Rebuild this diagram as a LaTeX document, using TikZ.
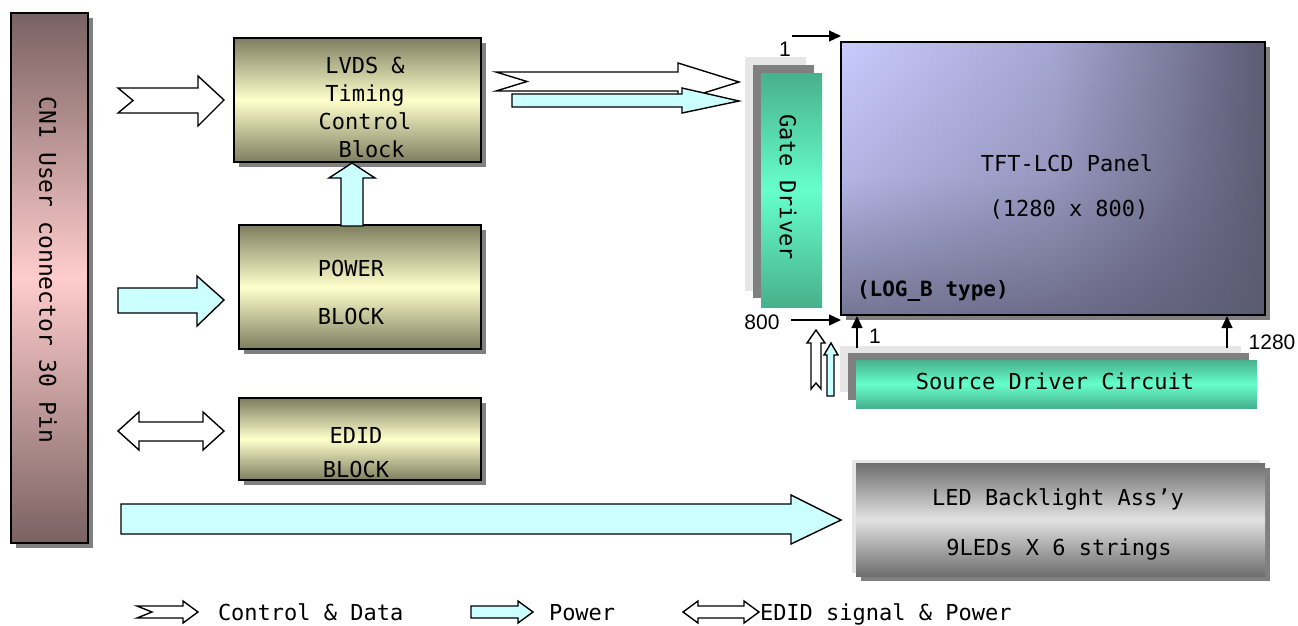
\documentclass[tikz,border=0pt]{standalone}
\usepackage{fontspec}
\setmainfont{DejaVu Sans Mono}
\newfontfamily\lblfont{Liberation Sans}
\usetikzlibrary{arrows.meta,shadows,fadings}

\definecolor{cnDark}{HTML}{7A6262}
\definecolor{cnLight}{HTML}{FFCCCC}
\definecolor{olDark}{HTML}{7E7E60}
\definecolor{olLight}{HTML}{FFFFCC}
\definecolor{pwr}{HTML}{CCFFFF}
\definecolor{tealDark}{HTML}{48B08C}
\definecolor{tealLight}{HTML}{66FFCC}
\definecolor{ledDark}{HTML}{6E6E6E}
\definecolor{ledLight}{HTML}{E2E2E2}
\definecolor{shadowgray}{HTML}{808080}
\definecolor{layerlight}{HTML}{E6E6E6}
\definecolor{pnLeft}{HTML}{C9CBFF}
\definecolor{pnMid}{HTML}{A6A6D2}
\definecolor{pnRight}{HTML}{5C5C74}
\definecolor{pnShade}{HTML}{5A5A72}
\tikzfading[name=panelfade, top color=transparent!100, bottom color=transparent!25, middle color=transparent!80]

\begin{document}
\begin{tikzpicture}[x=1pt,y=-1pt,
  every node/.style={inner sep=0pt,outer sep=0pt},
  txt/.style={font=\fontsize{22}{28}\selectfont,align=center},
  shadowed/.style={general shadow={fill=shadowgray,shadow xshift=5pt,shadow yshift=-5pt}},
  olivebox/.style={draw=black,line width=1.6pt,top color=olDark,bottom color=olDark,middle color=olLight,shadowed},
  tealbox/.style={top color=tealDark,bottom color=tealDark,middle color=tealLight},
  blk/.style={draw=black,line width=1.4pt,line join=miter},
  ctl/.style={blk,fill=white},
  pw/.style={blk,fill=pwr},
  thinarrow/.style={draw=black,line width=1.2pt,-{Triangle[length=12pt,width=11pt]}},
  lbl/.style={font=\lblfont\fontsize{21}{24}\selectfont},
]
\useasboundingbox (0,0) rectangle (1298,625);

% CN1 connector
\node[draw=black,line width=1.6pt,top color=cnDark,bottom color=cnDark,middle color=cnLight,shadowed,
      minimum width=77pt,minimum height=530pt] (cn) at (49.5,278) {};
\node[font=\fontsize{23}{28}\selectfont,rotate=-90] (cnt) at (48,270) {CN1 User connector 30 Pin};

% left blocks
\node[olivebox,minimum width=247pt,minimum height=124pt] (lvds) at (357.5,100) {};
\node[txt] (lvdst) at (365,107) {LVDS \&\\Timing\\Control\\\phantom{x}Block};
\node[olivebox,minimum width=242pt,minimum height=124pt] (pwrb) at (360,287) {};
\node[txt,font=\fontsize{22}{48}\selectfont] (pwrt) at (351,292) {POWER\\BLOCK};
\node[olivebox,minimum width=242pt,minimum height=82pt] (edid) at (360,439) {};
\node[txt,font=\fontsize{22}{34}\selectfont] (edidt) at (356,453) {EDID\\BLOCK};

% block arrows, left side
\path[ctl] (118,88) -- (198,88) -- (198,76) -- (224,100) -- (198,126) -- (198,113) -- (118,113) -- (133,100.5) -- cycle;
\path[pw] (118,288) -- (197,288) -- (197,276) -- (224,300) -- (197,326) -- (197,313) -- (118,313) -- cycle;
\path[ctl] (118,431) -- (139,412) -- (139,422) -- (203,422) -- (203,412) -- (224,431) -- (203,450) -- (203,441) -- (139,441) -- (139,450) -- cycle;
\path[pw] (341,226) -- (341,178) -- (329,178) -- (352,163) -- (375,178) -- (363,178) -- (363,226) -- cycle;
\path[pw] (121,504) -- (791,504) -- (791,495) -- (841,520) -- (791,544) -- (791,534) -- (121,534) -- cycle;

% arrows to gate driver
\path[ctl] (496,72) -- (678,72) -- (678,63) -- (739,82) -- (678,101) -- (678,91) -- (496,91) -- (527,81.5) -- cycle;
\path[pw] (512,94) -- (682,94) -- (682,88) -- (739,101) -- (682,113) -- (682,107) -- (512,107) -- cycle;

% gate driver
\fill[layerlight] (745,57) rectangle (806,291);
\fill[shadowgray] (753,65) rectangle (814,298);
\node[tealbox,minimum width=61pt,minimum height=234pt] (gate) at (791.5,190) {};
\node[font=\fontsize{22}{28}\selectfont,rotate=-90] (gatet) at (788,187) {Gate Driver};

% panel
\node[left color=pnLeft,right color=pnRight,middle color=pnMid,shadowed,minimum width=424pt,minimum height=273pt] (panel) at (1053,178.5) {};
\fill[pnShade,path fading=panelfade] (panel.north west) rectangle (panel.south east);
\draw[black,line width=1.6pt] (panel.north west) rectangle (panel.south east);
\node[txt] (pt1) at (1067,163) {TFT-LCD Panel};
\node[txt] (pt2) at (1069,210) {(1280 x 800)};
\node[font=\bfseries\fontsize{21}{26}\selectfont,anchor=west] (pt3) at (857,291) {(LOG\_B type)};

% source driver
\fill[layerlight] (840,346) rectangle (1241,392);
\fill[shadowgray] (848,353) rectangle (1249,400);
\node[tealbox,minimum width=401pt,minimum height=48pt] (src) at (1056.5,384) {};
\node[txt] (srct) at (1055,381) {Source Driver Circuit};

% up arrows to source driver
\path[ctl] (811,389) -- (811,343) -- (807,343) -- (816,330) -- (825,343) -- (821,343) -- (821,389) -- (816,383) -- cycle;
\path[pw] (827,396) -- (827,355) -- (824,355) -- (831,343) -- (838,355) -- (834,355) -- (834,396) -- cycle;

% thin arrows and labels
\coordinate (a1s) at (792,36);
\coordinate (a1e) at (841,36);
\draw[thinarrow] (a1s) -- (a1e);
\node[lbl] (l1) at (785,49) {1};
\coordinate (a2s) at (791,320);
\coordinate (a2e) at (841,320);
\draw[thinarrow] (a2s) -- (a2e);
\node[lbl] (l800) at (762,322) {800};
\coordinate (a3s) at (857,348);
\coordinate (a3e) at (857,316);
\draw[thinarrow] (a3s) -- (a3e);
\node[lbl] (l1b) at (875,336) {1};
\coordinate (a4s) at (1227,348);
\coordinate (a4e) at (1227,316);
\draw[thinarrow] (a4s) -- (a4e);
\node[lbl] (l1280) at (1272,342) {1280};

% LED backlight
\fill[layerlight] (852,460) rectangle (1260,573);
\node[top color=ledDark,bottom color=ledDark,middle color=ledLight,shadowed,minimum width=409pt,minimum height=113pt] (led) at (1060.5,519.5) {};
\node[txt] (ledt1) at (1058,499) {LED Backlight Ass’y};
\node[txt] (ledt2) at (1059,549) {9LEDs X 6 strings};

% legend
\path[ctl] (137,606) -- (183,606) -- (183,601) -- (198,612) -- (183,623) -- (183,618) -- (137,618) -- (152,612) -- cycle;
\node[txt,anchor=base west] (lg1) at (218,620) {Control \& Data};
\path[pw] (471,606) -- (518,606) -- (518,601) -- (533,612) -- (518,623) -- (518,618) -- (471,618) -- cycle;
\node[txt,anchor=base west] (lg2) at (549,620) {Power};
\path[ctl] (683,612) -- (698,601) -- (698,606) -- (744,606) -- (744,601) -- (759,612) -- (744,623) -- (744,618) -- (698,618) -- (698,623) -- cycle;
\node[txt,anchor=base west] (lg3) at (760,620) {EDID signal \& Power};
\end{tikzpicture}
\end{document}
